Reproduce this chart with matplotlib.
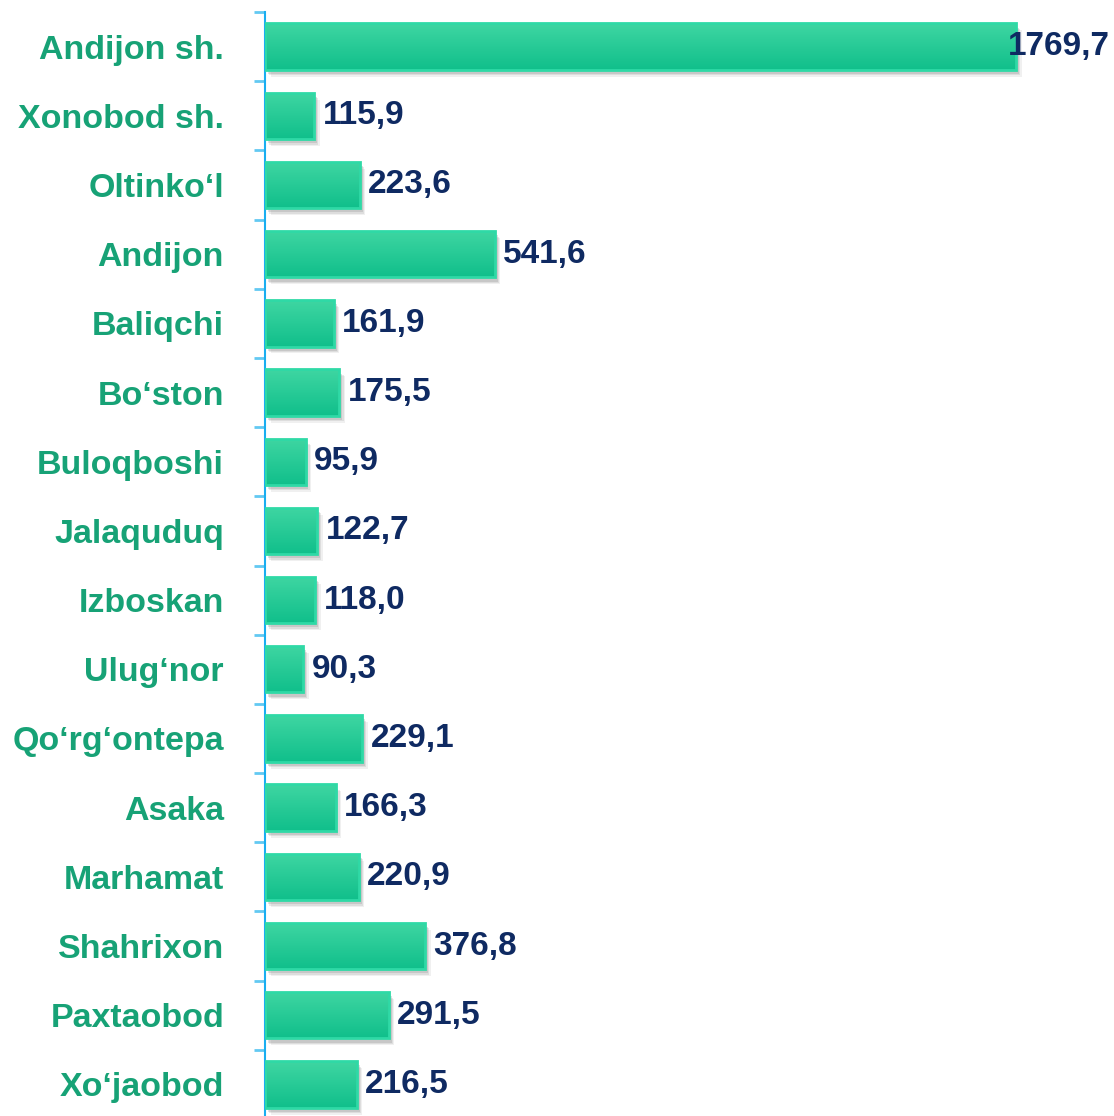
import numpy as np
import matplotlib
matplotlib.use('Agg')
import matplotlib.pyplot as plt
import matplotlib.patheffects as pe
from matplotlib.colors import LinearSegmentedColormap

districts = ['Andijon sh.', 'Xonobod sh.', 'Oltinko\u2018l', 'Andijon', 'Baliqchi',
             'Bo\u2018ston', 'Buloqboshi', 'Jalaquduq', 'Izboskan', 'Ulug\u2018nor',
             'Qo\u2018rg\u2018ontepa', 'Asaka', 'Marhamat', 'Shahrixon', 'Paxtaobod',
             'Xo\u2018jaobod']
values = [1769.7, 115.9, 223.6, 541.6, 161.9, 175.5, 95.9, 122.7, 118.0, 90.3,
          229.1, 166.3, 220.9, 376.8, 291.5, 216.5]

plt.rcParams['font.family'] = ['Liberation Sans', 'DejaVu Sans']

fig = plt.figure(figsize=(11.14, 11.16), dpi=100)
ax = fig.add_axes([265 / 1114, 1 - 1119 / 1116, 849 / 1114, 1107 / 1116])

y = np.arange(len(districts))
h = 0.67
xmax = 2000
grad = LinearSegmentedColormap.from_list('g', ['#3fd6a2', '#10bf8b'])

# soft shadow: a few stacked offset layers
shadow = [pe.SimplePatchShadow(offset=(o, -o - 1), shadow_rgbFace='#888888', alpha=a)
          for o, a in [(4, 0.12), (3, 0.18), (2, 0.25)]]
bars = ax.barh(y, values, height=h, color='#22c995', zorder=2,
               path_effects=shadow + [pe.Normal()])

for b, v, yy in zip(bars, values, y):
    im = ax.imshow(np.linspace(0, 1, 64).reshape(-1, 1), cmap=grad, aspect='auto',
                   extent=(0, v, yy + h / 2, yy - h / 2), origin='upper', zorder=3,
                   interpolation='bilinear')
    im.set_clip_path(b)
    ax.barh(yy, v, height=h, facecolor='none', edgecolor='#2fd9a6', linewidth=2, zorder=4)
    label = f'{v:.1f}'.replace('.', ',')
    if v > 0.85 * xmax:
        # no room to the right of the long bar, so pin it to the right edge
        ax.annotate(label, (1, yy), xycoords=('axes fraction', 'data'), xytext=(-3, 0),
                    textcoords='offset points', va='center', ha='right',
                    fontsize=24, fontweight='bold', color='#0f2a62', zorder=5)
    else:
        ax.annotate(label, (v, yy), xytext=(6, 0), textcoords='offset points',
                    va='center', ha='left', fontsize=24, fontweight='bold',
                    color='#0f2a62', zorder=5)

ax.set_xlim(0, xmax)
ax.set_ylim(len(districts) - 0.5, -0.5)

ax.set_yticks(y)
ax.set_yticklabels(districts, fontsize=24.5, fontweight='bold', color='#17a276')
ax.set_yticks(np.arange(-0.5, len(districts), 1), minor=True)
ax.tick_params(axis='y', which='major', length=0, pad=29.5)
ax.tick_params(axis='y', which='minor', length=8, width=2, color='#62c9f2')
ax.set_xticks([])

for s in ['top', 'right', 'bottom']:
    ax.spines[s].set_visible(False)
ax.spines['left'].set_color('#19aef0')
ax.spines['left'].set_linewidth(1.5)
ax.patch.set_alpha(0)

fig.savefig('out.png', dpi=100)
